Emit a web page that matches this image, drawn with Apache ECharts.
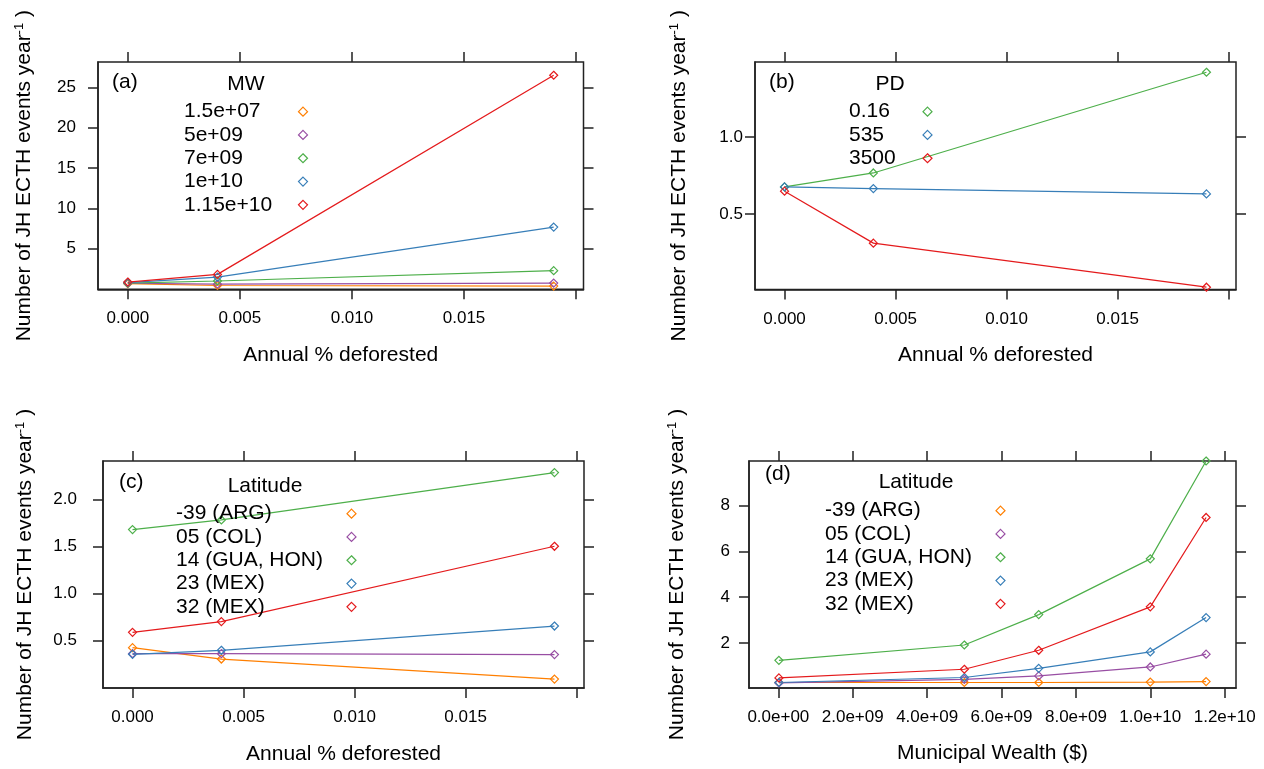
<!DOCTYPE html>
<html>
<head>
<meta charset="utf-8">
<script src="https://cdn.jsdelivr.net/npm/echarts@6/dist/echarts.min.js"></script>
<style>
html, body { margin: 0; padding: 0; background: #fff; }
#chart { width: 1264px; height: 769px; }
</style>
</head>
<body>
<div id="chart"></div>
<script>
// x values
const deforest = [0, 0.004, 0.019];
const wealth = [1.5e7, 5e9, 7e9, 1e10, 1.15e10];

// (a) municipal wealth groups
const mwNames = ['1.5e+07', '5e+09', '7e+09', '1e+10', '1.15e+10'];
const mw15e7 = [0.65, 0.42, 0.35];
const mw5e9 = [0.7, 0.58, 0.72];
const mw7e9 = [0.72, 0.98, 2.26];
const mw1e10 = [0.78, 1.46, 7.67];
const mw115e10 = [0.85, 1.8, 26.5];

// (b) population density groups
const pdNames = ['0.16', '535', '3500'];
const pd016 = [0.676, 0.767, 1.424];
const pd535 = [0.676, 0.665, 0.63];
const pd3500 = [0.648, 0.309, 0.0215];

// (c) latitude groups vs deforestation
const latNames = ['-39 (ARG)', '05 (COL)', '14 (GUA, HON)', '23 (MEX)', '32 (MEX)'];
const argC = [0.422, 0.301, 0.088];
const colC = [0.358, 0.358, 0.348];
const guaC = [1.678, 1.78, 2.284];
const mex23C = [0.351, 0.394, 0.652];
const mex32C = [0.585, 0.699, 1.5];

// (d) latitude groups vs wealth
const argD = [0.27, 0.27, 0.27, 0.29, 0.31];
const colD = [0.25, 0.41, 0.56, 0.95, 1.51];
const guaD = [1.24, 1.91, 3.24, 5.68, 9.96];
const mex23D = [0.27, 0.49, 0.89, 1.61, 3.11];
const mex32D = [0.47, 0.85, 1.68, 3.58, 7.49];

// ticks
const deforestTicks = [0, 0.005, 0.010, 0.015, 0.020];
const deforestLabels = ['0.000', '0.005', '0.010', '0.015', ''];
const wealthTicks = [0, 2e9, 4e9, 6e9, 8e9, 1e10, 1.2e10];
const wealthLabels = ['0.0e+00', '2.0e+09', '4.0e+09', '6.0e+09', '8.0e+09', '1.0e+10', '1.2e+10'];
const yTicksA = [5, 10, 15, 20, 25];
const yLabelsA = ['5', '10', '15', '20', '25'];
const yTicksB = [0.5, 1.0];
const yLabelsB = ['0.5', '1.0'];
const yTicksC = [0.5, 1.0, 1.5, 2.0];
const yLabelsC = ['0.5', '1.0', '1.5', '2.0'];
const yTicksD = [2, 4, 6, 8];
const yLabelsD = ['2', '4', '6', '8'];

const ORANGE = '#FF7F00', PURPLE = '#984EA3', GREEN = '#4DAF4A', BLUE = '#377EB8', RED = '#E41A1C';
const FONT = "'Liberation Sans', Arial, sans-serif";
const DIAMOND = 'path://M5,0L10,5L5,10L0,5Z';
const INK = '#222';

var myChart = echarts.init(document.getElementById('chart'));

const lookup = (ticks, labels) => (v) => {
  const i = ticks.findIndex(t => Math.abs(t - v) < 1e-9 * Math.max(1, Math.abs(t)));
  return i < 0 ? '' : labels[i];
};

const yTitle = 'Number of JH ECTH events year{s|-1} )';

function makeGrid(left, top, width, height) {
  return { left, top, width, height, show: true, borderColor: INK, borderWidth: 1.5, backgroundColor: 'transparent' };
}

function makeX(gi, min, max, ticks, labels, name, gap) {
  return [{
    type: 'value', gridIndex: gi, min: min, max: max, position: 'bottom',
    name: name, nameLocation: 'middle', nameGap: gap,
    nameTextStyle: { fontSize: 21, color: '#000', fontFamily: FONT },
    axisLine: { show: true, onZero: false, lineStyle: { color: INK, width: 1.5 } },
    axisTick: { show: true, length: 10, customValues: ticks, lineStyle: { color: INK, width: 1.5 } },
    axisLabel: { show: true, customValues: ticks, margin: 21, fontSize: 17, color: '#000', fontFamily: FONT, formatter: lookup(ticks, labels) },
    splitLine: { show: false }
  }, {
    type: 'value', gridIndex: gi, min: min, max: max, position: 'top',
    axisLine: { show: false, onZero: false },
    axisTick: { show: true, length: 10, customValues: ticks, lineStyle: { color: INK, width: 1.5 } },
    axisLabel: { show: false },
    splitLine: { show: false }
  }];
}

function makeY(gi, min, max, ticks, labels, margin, gap) {
  return [{
    type: 'value', gridIndex: gi, min: min, max: max, position: 'left',
    name: yTitle, nameLocation: 'middle', nameGap: gap, nameRotate: 90,
    nameTextStyle: { fontSize: 21, color: '#000', fontFamily: FONT,
      rich: { s: { fontSize: 13, fontFamily: FONT, color: '#000', verticalAlign: 'top', padding: [0, 0, 10, 0] } } },
    axisLine: { show: true, onZero: false, lineStyle: { color: INK, width: 1.5 } },
    axisTick: { show: true, length: 10, customValues: ticks, lineStyle: { color: INK, width: 1.5 } },
    axisLabel: { show: true, customValues: ticks, margin: margin, fontSize: 17, color: '#000', fontFamily: FONT, formatter: lookup(ticks, labels) },
    splitLine: { show: false }
  }, {
    type: 'value', gridIndex: gi, min: min, max: max, position: 'right',
    axisLine: { show: false, onZero: false },
    axisTick: { show: true, length: 10, customValues: ticks, lineStyle: { color: INK, width: 1.5 } },
    axisLabel: { show: false },
    splitLine: { show: false }
  }];
}

function makeSeries(gi, name, xs, ys, color) {
  return {
    name: name, type: 'line', xAxisIndex: gi * 2, yAxisIndex: gi * 2,
    data: xs.map((x, i) => [x, ys[i]]),
    symbol: DIAMOND, symbolSize: 8, showAllSymbol: true, clip: false,
    lineStyle: { color: color, width: 1.2 },
    itemStyle: { color: 'transparent', borderColor: color, borderWidth: 1.2 },
    emphasis: { disabled: true },
    z: 3
  };
}

function makeLegend(left, top, names, colors, textWidth) {
  return {
    orient: 'vertical', left: left, top: top, align: 'right', padding: 0,
    itemGap: 0, itemWidth: 9, itemHeight: 9, icon: DIAMOND, selectedMode: false,
    data: names.map((n, i) => ({ name: n, itemStyle: { color: 'transparent', borderColor: colors[i], borderWidth: 1.2 } })),
    formatter: (n) => '{t|' + n + '}',
    textStyle: { fontSize: 21, color: '#000', fontFamily: FONT, lineHeight: 23.3,
      rich: { t: { width: textWidth, align: 'left', fontSize: 21, lineHeight: 23.3, fontFamily: FONT, color: '#000' } } }
  };
}

function label(text, left, top, center) {
  const t = { text: text, left: left, top: top, padding: 0,
    textStyle: { fontSize: 21, fontWeight: 'normal', color: '#000', fontFamily: FONT } };
  if (center) t.textAlign = 'center';
  return t;
}

const colors5 = [ORANGE, PURPLE, GREEN, BLUE, RED];
const colorsPD = [GREEN, BLUE, RED];

var option = {
  animation: false,
  backgroundColor: '#fff',
  title: [
    label('(a)', 112, 72), label('MW', 246, 74, true),
    label('(b)', 769, 72), label('PD', 890, 74, true),
    label('(c)', 119, 472), label('Latitude', 265, 476, true),
    label('(d)', 765, 464), label('Latitude', 916, 472, true)
  ],
  legend: [
    makeLegend(184, 100, mwNames, colors5, 109.5),
    makeLegend(849, 100, pdNames, colorsPD, 69),
    makeLegend(176, 502, latNames, colors5, 166),
    makeLegend(825, 499, latNames, colors5, 166)
  ],
  grid: [
    makeGrid(98, 62, 485.5, 227.3),
    makeGrid(755, 62, 481, 227.5),
    makeGrid(103, 461, 481, 227),
    makeGrid(749, 461, 487, 227)
  ],
  xAxis: [].concat(
    makeX(0, -0.00133, 0.02033, deforestTicks, deforestLabels, 'Annual % deforested', 55),
    makeX(1, -0.00133, 0.02033, deforestTicks, deforestLabels, 'Annual % deforested', 55),
    makeX(2, -0.00133, 0.02033, deforestTicks, deforestLabels, 'Annual % deforested', 56),
    makeX(3, -0.789e9, 1.2304e10, wealthTicks, wealthLabels, 'Municipal Wealth ($)', 55)
  ),
  yAxis: [].concat(
    makeY(0, -0.05, 28.14, yTicksA, yLabelsA, 22, 62),
    makeY(1, 0.0065, 1.491, yTicksB, yLabelsB, 12, 64),
    makeY(2, -0.007, 2.407, yTicksC, yLabelsC, 26, 66),
    makeY(3, 0.03, 9.96, yTicksD, yLabelsD, 19, 60)
  ),
  series: [
    makeSeries(0, mwNames[0], deforest, mw15e7, ORANGE),
    makeSeries(0, mwNames[1], deforest, mw5e9, PURPLE),
    makeSeries(0, mwNames[2], deforest, mw7e9, GREEN),
    makeSeries(0, mwNames[3], deforest, mw1e10, BLUE),
    makeSeries(0, mwNames[4], deforest, mw115e10, RED),

    makeSeries(1, pdNames[0], deforest, pd016, GREEN),
    makeSeries(1, pdNames[1], deforest, pd535, BLUE),
    makeSeries(1, pdNames[2], deforest, pd3500, RED),

    makeSeries(2, latNames[0], deforest, argC, ORANGE),
    makeSeries(2, latNames[1], deforest, colC, PURPLE),
    makeSeries(2, latNames[2], deforest, guaC, GREEN),
    makeSeries(2, latNames[3], deforest, mex23C, BLUE),
    makeSeries(2, latNames[4], deforest, mex32C, RED),

    makeSeries(3, latNames[0], wealth, argD, ORANGE),
    makeSeries(3, latNames[1], wealth, colD, PURPLE),
    makeSeries(3, latNames[2], wealth, guaD, GREEN),
    makeSeries(3, latNames[3], wealth, mex23D, BLUE),
    makeSeries(3, latNames[4], wealth, mex32D, RED)
  ]
};
myChart.setOption(option);
</script>
</body>
</html>
